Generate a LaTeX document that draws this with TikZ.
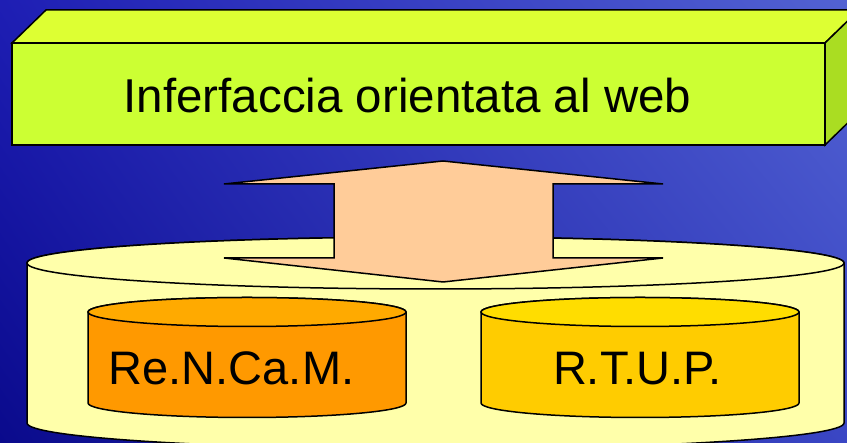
\documentclass[tikz,border=0pt]{standalone}
\usepackage{fontspec}
\setmainfont{Liberation Sans}
\usetikzlibrary{shadings}
\definecolor{bgtl}{HTML}{1E1EB4}
\definecolor{bgtr}{HTML}{5262D2}
\definecolor{bgbl}{HTML}{0A0A8C}
\definecolor{bgbr}{HTML}{3A46C4}
\definecolor{boxfront}{HTML}{CCFF33}
\definecolor{boxtop}{HTML}{DDFF33}
\definecolor{boxside}{HTML}{AADD22}
\definecolor{arrowfill}{HTML}{FFCC99}
\definecolor{basefill}{HTML}{FFFFAA}
\definecolor{orangeside}{HTML}{FF9900}
\definecolor{orangetop}{HTML}{FFAA00}
\definecolor{goldside}{HTML}{FFCC00}
\definecolor{goldtop}{HTML}{FFDD00}
\tikzset{
  outline/.style={draw=black,line width=1.5pt,line join=miter},
  label/.style={anchor=base,inner sep=0pt}
}
\begin{document}
\begin{tikzpicture}[x=1pt,y=1pt]
      \useasboundingbox (0,0) rectangle (847,443);
      \clip (0,0) rectangle (847,443);
      \shade[upper left=bgtl,upper right=bgtr,lower left=bgbl,lower right=bgbr]
        (0,0) rectangle (847,443);
      \begin{scope}[outline]
        \filldraw[fill=boxtop] (12,400) -- (46,433) -- (859,433) -- (825,400) -- cycle;
        \filldraw[fill=boxside] (825,400) -- (859,433) -- (859,331) -- (825,298) -- cycle;
        \filldraw[fill=boxfront] (12,298) rectangle (825,400);
      \end{scope}
      \node[label,font=\fontsize{47.5}{57}\selectfont] (web) at (407.5,330) {Inferfaccia orientata al web};
      \begin{scope}[outline]
        \filldraw[fill=basefill] (27,180) -- (27,20) arc[start angle=180,end angle=360,x radius=408.5,y radius=26]
          -- (844,180) arc[start angle=0,end angle=180,x radius=408.5,y radius=26] -- cycle;
        \filldraw[fill=basefill] (435.5,180) ellipse[x radius=408.5,y radius=26];
        \filldraw[fill=arrowfill] (443,282) -- (663,259) -- (553,259) -- (553,185) -- (663,185)
          -- (443,161) -- (224,185) -- (334,185) -- (334,259) -- (224,259) -- cycle;
        \filldraw[fill=orangeside] (88,131) -- (88,40) arc[start angle=180,end angle=360,x radius=159,y radius=14.5]
          -- (406,131) arc[start angle=0,end angle=180,x radius=159,y radius=14.5] -- cycle;
        \filldraw[fill=orangetop] (247,131) ellipse[x radius=159,y radius=14.5];
        \filldraw[fill=goldside] (481,131) -- (481,40) arc[start angle=180,end angle=360,x radius=159,y radius=14.5]
          -- (799,131) arc[start angle=0,end angle=180,x radius=159,y radius=14.5] -- cycle;
        \filldraw[fill=goldtop] (640,131) ellipse[x radius=159,y radius=14.5];
      \end{scope}
      \node[label,font=\fontsize{47}{56}\selectfont] (rencam) at (231.5,58) {Re.N.Ca.M.};
      \node[label,font=\fontsize{47}{56}\selectfont] (rtup) at (637.5,58) {R.T.U.P.};
    \end{tikzpicture}
\end{document}
